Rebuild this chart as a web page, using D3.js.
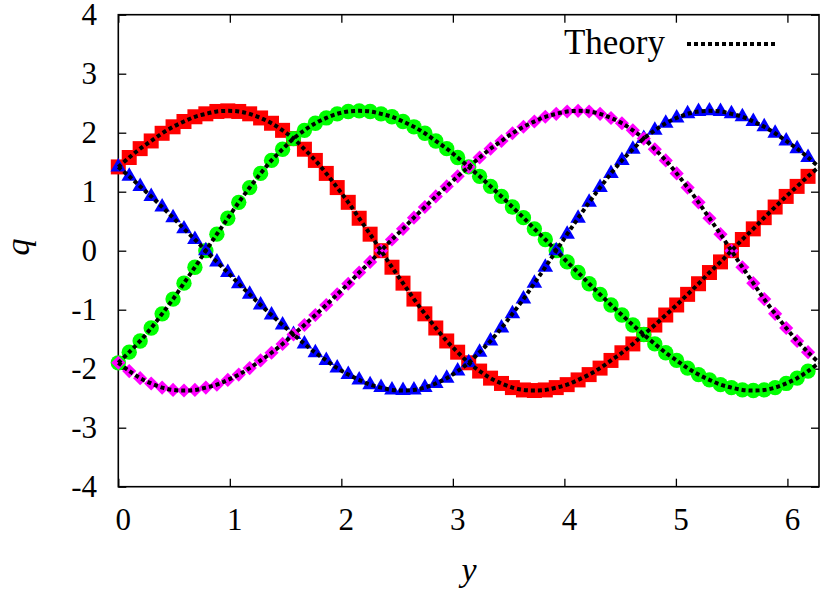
<!DOCTYPE html>
<html>
<head>
<meta charset="utf-8">
<title>q vs y</title>
<script src="https://cdn.jsdelivr.net/npm/d3@7"></script>
<style>
body { margin: 0; background: #fff; }
text { font-family: "Liberation Serif", "DejaVu Serif", serif; fill: #000; }
</style>
</head>
<body>
<script>
// sample points along y (last one = end of the theory line at 2*pi, no marker)
var yGrid = [0, 0.098, 0.196, 0.295, 0.393, 0.491, 0.589, 0.687, 0.785, 0.884, 0.982, 1.080, 1.178, 1.276, 1.374, 1.473,
             1.571, 1.669, 1.767, 1.865, 1.963, 2.062, 2.160, 2.258, 2.356, 2.454, 2.553, 2.651, 2.749, 2.847, 2.945, 3.043,
             3.142, 3.240, 3.338, 3.436, 3.534, 3.633, 3.731, 3.829, 3.927, 4.025, 4.123, 4.222, 4.320, 4.418, 4.516, 4.614,
             4.712, 4.811, 4.909, 5.007, 5.105, 5.203, 5.301, 5.400, 5.498, 5.596, 5.694, 5.792, 5.890, 5.989, 6.087, 6.185,
             6.283];

var red = [1.42, 1.58, 1.73, 1.86, 1.99, 2.10, 2.19, 2.27, 2.32, 2.36, 2.37, 2.36, 2.32, 2.25, 2.16, 2.04,
           1.90, 1.72, 1.53, 1.31, 1.07, 0.82, 0.55, 0.28, 0.00, -0.28, -0.55, -0.82, -1.07, -1.31, -1.53, -1.72,
           -1.90, -2.04, -2.16, -2.25, -2.32, -2.36, -2.37, -2.36, -2.32, -2.27, -2.19, -2.10, -1.99, -1.86, -1.73, -1.58,
           -1.42, -1.26, -1.09, -0.92, -0.74, -0.56, -0.37, -0.19, 0.00, 0.19, 0.37, 0.56, 0.74, 0.92, 1.09, 1.26,
           1.42];

var green = [-1.90, -1.72, -1.53, -1.31, -1.07, -0.82, -0.55, -0.28, 0.00, 0.28, 0.55, 0.82, 1.07, 1.31, 1.53, 1.72,
             1.90, 2.04, 2.16, 2.25, 2.32, 2.36, 2.37, 2.36, 2.32, 2.27, 2.19, 2.10, 1.99, 1.86, 1.73, 1.58,
             1.42, 1.26, 1.09, 0.92, 0.74, 0.56, 0.37, 0.19, 0.00, -0.19, -0.37, -0.56, -0.74, -0.92, -1.09, -1.26,
             -1.42, -1.58, -1.73, -1.86, -1.99, -2.10, -2.19, -2.27, -2.32, -2.36, -2.37, -2.36, -2.32, -2.25, -2.16, -2.04,
             -1.90];

var blue = [1.42, 1.26, 1.09, 0.92, 0.74, 0.56, 0.37, 0.19, 0.00, -0.19, -0.37, -0.56, -0.74, -0.92, -1.09, -1.26,
            -1.42, -1.58, -1.73, -1.86, -1.99, -2.10, -2.19, -2.27, -2.32, -2.36, -2.37, -2.36, -2.32, -2.25, -2.16, -2.04,
            -1.90, -1.72, -1.53, -1.31, -1.07, -0.82, -0.55, -0.28, 0.00, 0.28, 0.55, 0.82, 1.07, 1.31, 1.53, 1.72,
            1.90, 2.04, 2.16, 2.25, 2.32, 2.36, 2.37, 2.36, 2.32, 2.27, 2.19, 2.10, 1.99, 1.86, 1.73, 1.58,
            1.42];

var magenta = [-1.90, -2.04, -2.16, -2.25, -2.32, -2.36, -2.37, -2.36, -2.32, -2.27, -2.19, -2.10, -1.99, -1.86, -1.73, -1.58,
               -1.42, -1.26, -1.09, -0.92, -0.74, -0.56, -0.37, -0.19, 0.00, 0.19, 0.37, 0.56, 0.74, 0.92, 1.09, 1.26,
               1.42, 1.58, 1.73, 1.86, 1.99, 2.10, 2.19, 2.27, 2.32, 2.36, 2.37, 2.36, 2.32, 2.25, 2.16, 2.04,
               1.90, 1.72, 1.53, 1.31, 1.07, 0.82, 0.55, 0.28, 0.00, -0.28, -0.55, -0.82, -1.07, -1.31, -1.53, -1.72,
               -1.90];

var xTicks = [0, 1, 2, 3, 4, 5, 6];
var yTicks = [-4, -3, -2, -1, 0, 1, 2, 3, 4];

var w = 820, h = 594;
var pL = 118.3, pR = 819, pT = 14.7, pB = 486.7;

var svg = d3.select('body').append('svg')
            .attr('width', w)
            .attr('height', h);

var x = d3.scaleLinear().domain([0, 2 * Math.PI]).range([pL, pR]);
var y = d3.scaleLinear().domain([-4, 4]).range([pB, pT]);

// ticks (inside, mirrored on all four sides)
var tl = 8;
svg.append('g').call(d3.axisBottom(x).tickValues(xTicks).tickSize(tl).tickFormat(''))
   .attr('transform', 'translate(0,' + (pB - tl) + ')');
svg.append('g').call(d3.axisTop(x).tickValues(xTicks).tickSize(tl).tickFormat(''))
   .attr('transform', 'translate(0,' + (pT + tl) + ')');
svg.append('g').call(d3.axisLeft(y).tickValues(yTicks).tickSize(tl).tickFormat(''))
   .attr('transform', 'translate(' + (pL + tl) + ',0)');
svg.append('g').call(d3.axisRight(y).tickValues(yTicks).tickSize(tl).tickFormat(''))
   .attr('transform', 'translate(' + (pR - tl) + ',0)');
svg.selectAll('.domain').remove();
svg.selectAll('.tick line').attr('stroke', '#000').attr('stroke-width', 1.3);

svg.append('rect')
   .attr('x', pL).attr('y', pT)
   .attr('width', pR - pL).attr('height', pB - pT)
   .attr('fill', 'none').attr('stroke', '#000').attr('stroke-width', 1.6);

// tick labels
svg.selectAll('.xlab').data(xTicks).enter().append('text')
   .attr('x', function(d) { return x(d) + 5; })
   .attr('y', 530)
   .attr('text-anchor', 'middle')
   .style('font-size', '31px')
   .text(function(d) { return d; });

svg.selectAll('.ylab').data(yTicks).enter().append('text')
   .attr('x', 97)
   .attr('y', function(d) { return y(d) + 10.5; })
   .attr('text-anchor', 'end')
   .style('font-size', '31px')
   .text(function(d) { return d; });

// axis titles
svg.append('text')
   .attr('x', 469).attr('y', 581)
   .attr('text-anchor', 'middle')
   .style('font-size', '34px').style('font-style', 'italic')
   .text('y');
svg.append('text')
   .attr('transform', 'translate(29,247) rotate(-90)')
   .attr('text-anchor', 'middle')
   .style('font-size', '34px').style('font-style', 'italic')
   .text('q');

// markers
var series = [
  {vals: red, color: '#ff0000', type: d3.symbolSquare, size: 225, rot: 0},
  {vals: green, color: '#00ff00', type: d3.symbolCircle, size: 185, rot: 0},
  {vals: blue, color: '#0000ff', type: d3.symbolTriangle, size: 105, rot: 0},
  {vals: magenta, color: '#ff00ff', type: d3.symbolSquare, size: 100, rot: 45}
];

series.forEach(function(s) {
  var pts = s.vals.slice(0, 64);
  svg.append('g').selectAll('path')
     .data(pts)
     .enter()
     .append('path')
     .attr('d', d3.symbol().type(s.type).size(s.size))
     .attr('transform', function(d, i) {
        return 'translate(' + x(yGrid[i]) + ',' + y(d) + ') rotate(' + s.rot + ')';
     })
     .attr('fill', s.color);
});

// theory curves on top
var line = d3.line()
             .x(function(d, i) { return x(yGrid[i]); })
             .y(function(d) { return y(d); })
             .curve(d3.curveCatmullRom);

series.forEach(function(s) {
  svg.append('path')
     .attr('d', line(s.vals))
     .attr('fill', 'none')
     .attr('stroke', '#000')
     .attr('stroke-width', 4)
     .attr('stroke-dasharray', '4,3');
});

// legend
svg.append('text')
   .attr('x', 665).attr('y', 54)
   .attr('text-anchor', 'end')
   .style('font-size', '35px')
   .text('Theory');
svg.append('line')
   .attr('x1', 687).attr('x2', 777)
   .attr('y1', 44).attr('y2', 44)
   .attr('stroke', '#000')
   .attr('stroke-width', 4)
   .attr('stroke-dasharray', '4,3');
</script>
</body>
</html>
